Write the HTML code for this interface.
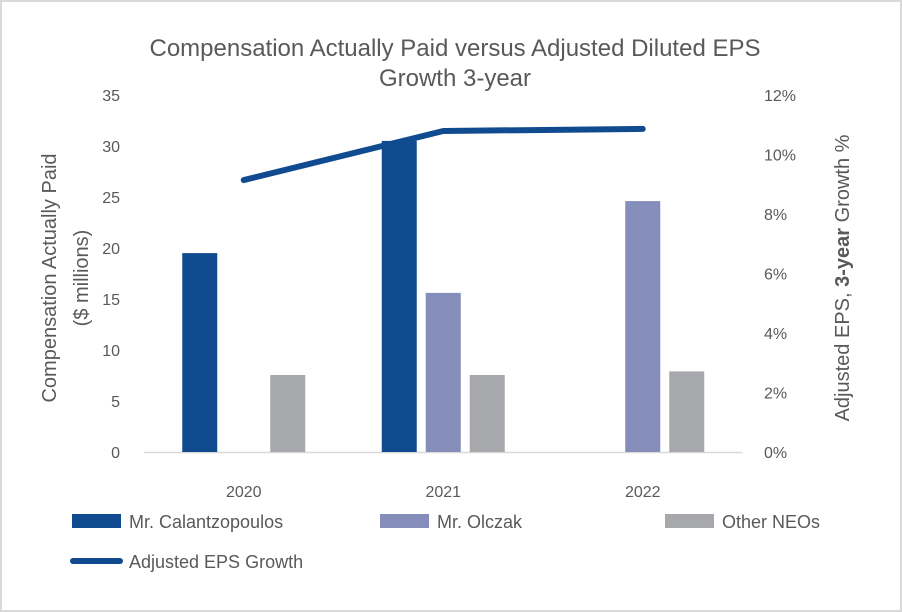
<!DOCTYPE html>
<html><head><meta charset="utf-8"><style>
body{margin:0;background:#fff;}
svg{display:block;font-family:"Liberation Sans",Arial,sans-serif;}
</style></head><body>
<svg id="c" width="902" height="612">
<rect x="1" y="1" width="900" height="610" fill="#fff" stroke="#d9d9d9" stroke-width="2"/>
<text x="455" y="56" text-anchor="middle" font-size="24" fill="#595959">Compensation Actually Paid versus Adjusted Diluted EPS</text>
<text x="455" y="86" text-anchor="middle" font-size="24" fill="#595959">Growth 3-year</text>
<text transform="translate(56,278) rotate(-90)" text-anchor="middle" font-size="20" fill="#595959">Compensation Actually Paid</text>
<text transform="translate(88,278) rotate(-90)" text-anchor="middle" font-size="20" fill="#595959">($ millions)</text>
<text transform="translate(849,278) rotate(-90)" text-anchor="middle" font-size="20" fill="#595959">Adjusted EPS, <tspan font-weight="bold">3-year</tspan> Growth %</text>
<g id="g"></g>
</svg>
<script>
const categories=["2020","2021","2022"];
const calantzopoulos=[19.5,30.5,null];
const olczak=[null,15.6,24.6];
const otherNeos=[7.55,7.55,7.9];
const epsGrowth=[9.14,10.79,10.86];
const leftTicks=[0,5,10,15,20,25,30,35];
const rightTicks=[0,2,4,6,8,10,12];
const rightTickLabels=["0%","2%","4%","6%","8%","10%","12%"];

const NS="http://www.w3.org/2000/svg";
const g=document.getElementById('g');
const X0=144,CW=199.5,Y0=452,H=357;
const yL=v=>Y0-v/35*H;
const yR=v=>Y0-v/12*H;
const xC=i=>X0+CW*(i+0.5);
function mk(t,a){const e=document.createElementNS(NS,t);for(const k in a)e.setAttribute(k,a[k]);g.appendChild(e);return e;}
leftTicks.forEach(v=>{const t=mk('text',{x:120,y:yL(v)+6,'text-anchor':'end','font-size':16,fill:'#595959'});t.textContent=v;

});
rightTicks.forEach((v,i)=>{const t=mk('text',{x:764,y:yR(v)+6,'font-size':16,fill:'#595959'});t.textContent=rightTickLabels[i];

});
const ax=mk('line',{x1:X0,x2:X0+3*CW,y1:Y0+0.5,y2:Y0+0.5,stroke:'#d9d9d9','stroke-width':1.5});


categories.forEach((c,i)=>{const t=mk('text',{x:xC(i),y:497,'text-anchor':'middle','font-size':16,fill:'#595959'});t.textContent=c;

});
const series=[[calantzopoulos,'#114b8f',-1,'bar-calantzopoulos'],[olczak,'#858eba',0,'bar-olczak'],[otherNeos,'#a7a8ab',1,'bar-other-neos']];
series.forEach(([arr,col,off,name])=>arr.forEach((v,i)=>{if(v==null)return;
const cx=xC(i)+off*44;const r=mk('rect',{x:cx-17.5,y:yL(v),width:35,height:Y0-yL(v),fill:col});

}));
const pts=epsGrowth.map((v,i)=>xC(i)+','+yR(v)).join(' ');
const pl=mk('polyline',{points:pts,fill:'none',stroke:'#114b8f','stroke-width':6,'stroke-linecap':'round','stroke-linejoin':'round'});


const leg=[[72,'#114b8f','Mr. Calantzopoulos'],[380,'#858eba','Mr. Olczak'],[665,'#a7a8ab','Other NEOs']];
leg.forEach(([x,col,txt])=>{const r=mk('rect',{x:x,y:514,width:49,height:14,fill:col});


const t=mk('text',{x:x+57,y:528,'font-size':18,fill:'#595959'});t.textContent=txt;

});
const ll=mk('line',{x1:73,x2:120,y1:561,y2:561,stroke:'#114b8f','stroke-width':6,'stroke-linecap':'round'});


const lt=mk('text',{x:129,y:568,'font-size':18,fill:'#595959'});lt.textContent='Adjusted EPS Growth';


</script>
</body></html>
